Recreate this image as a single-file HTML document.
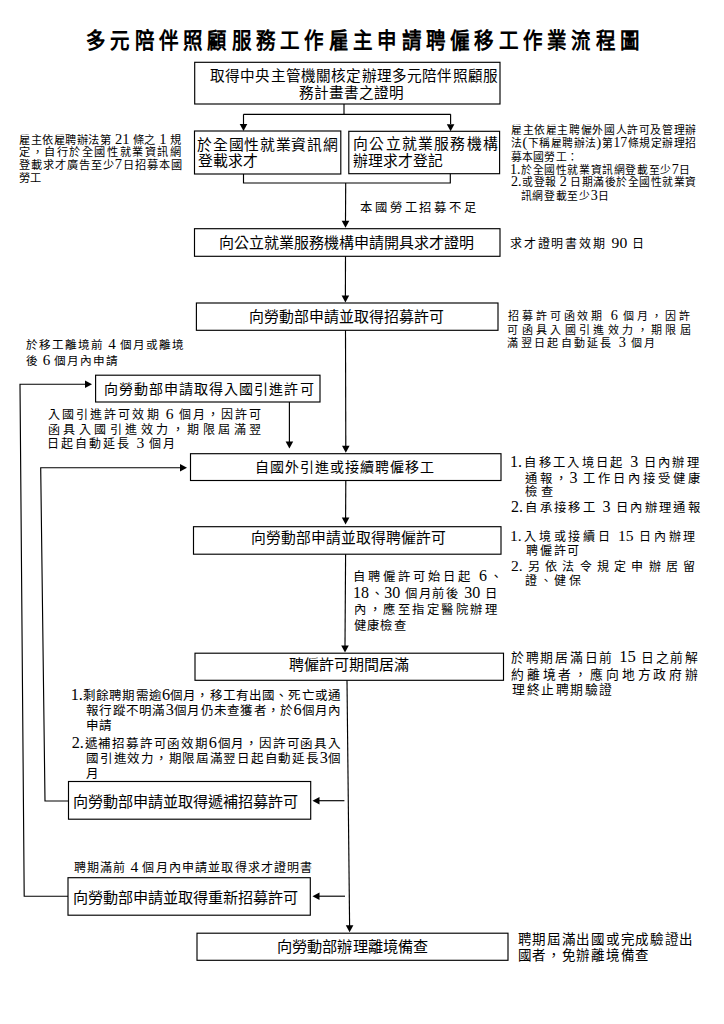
<!DOCTYPE html><html lang="zh-TW"><head><meta charset="utf-8"><style>
html,body{margin:0;padding:0;background:#fff;}
#pg{position:relative;width:724px;height:1024px;overflow:hidden;background:#fff;}
.d{font-size:1.3em;line-height:0;}
.t{position:absolute;white-space:nowrap;color:#000;font-family:"Liberation Serif", serif;}
svg{position:absolute;left:0;top:0;}
</style></head><body><div id="pg">
<svg width="724" height="1024" viewBox="0 0 724 1024">
<rect x="194.7" y="62.3" width="305.30" height="41.70" fill="none" stroke="#000" stroke-width="1.15"/>
<rect x="194.5" y="131.0" width="146.30" height="43.00" fill="none" stroke="#000" stroke-width="1.15"/>
<rect x="348.8" y="131.3" width="150.80" height="42.40" fill="none" stroke="#000" stroke-width="1.15"/>
<rect x="194.5" y="228.7" width="305.50" height="27.60" fill="none" stroke="#000" stroke-width="1.15"/>
<rect x="196.4" y="303.0" width="301.60" height="27.30" fill="none" stroke="#000" stroke-width="1.15"/>
<rect x="95.6" y="375.2" width="224.40" height="26.80" fill="none" stroke="#000" stroke-width="1.15"/>
<rect x="190.5" y="453.7" width="310.50" height="26.80" fill="none" stroke="#000" stroke-width="1.15"/>
<rect x="193.5" y="526.7" width="307.50" height="27.50" fill="none" stroke="#000" stroke-width="1.15"/>
<rect x="195.0" y="653.2" width="308.50" height="27.10" fill="none" stroke="#000" stroke-width="1.15"/>
<rect x="68.5" y="781.5" width="242.20" height="37.70" fill="none" stroke="#000" stroke-width="1.15"/>
<rect x="68.0" y="877.7" width="242.30" height="37.50" fill="none" stroke="#000" stroke-width="1.15"/>
<rect x="197.0" y="933.2" width="311.00" height="27.10" fill="none" stroke="#000" stroke-width="1.15"/>
<polyline points="344.0,104.0 344.0,114.3" fill="none" stroke="#000" stroke-width="1.15"/>
<polyline points="243.5,114.3 450.7,114.3" fill="none" stroke="#000" stroke-width="1.15"/>
<polyline points="243.5,114.3 243.5,124" fill="none" stroke="#000" stroke-width="1.15"/>
<polyline points="450.6,114.3 450.6,124" fill="none" stroke="#000" stroke-width="1.15"/>
<polyline points="243.5,174.0 243.5,183.0 450.3,183.0 450.3,173.7" fill="none" stroke="#000" stroke-width="1.15"/>
<polyline points="345.7,183.0 345.5,221" fill="none" stroke="#000" stroke-width="1.15"/>
<polyline points="345.5,256.3 345.4,296" fill="none" stroke="#000" stroke-width="1.15"/>
<polyline points="345.5,330.3 345.8,446" fill="none" stroke="#000" stroke-width="1.15"/>
<polyline points="289.4,402.0 289.4,442" fill="none" stroke="#000" stroke-width="1.15"/>
<polyline points="68.0,896.2 24.2,896.2 20.0,384.2 86,384.2" fill="none" stroke="#000" stroke-width="1.15"/>
<polyline points="68.5,801.0 45.0,801.0 40.7,467.7 181,467.7" fill="none" stroke="#000" stroke-width="1.15"/>
<polyline points="345.8,480.5 345.6,518" fill="none" stroke="#000" stroke-width="1.15"/>
<polyline points="345.6,554.2 345.0,646" fill="none" stroke="#000" stroke-width="1.15"/>
<polyline points="347.0,680.3 349.6,926" fill="none" stroke="#000" stroke-width="1.15"/>
<polyline points="344.4,800.7 318.5,800.7" fill="none" stroke="#000" stroke-width="1.15"/>
<polyline points="345.0,896.2 318.5,896.2" fill="none" stroke="#000" stroke-width="1.15"/>
<polygon points="243.50,131.00 239.70,124.00 247.30,124.00" fill="#000"/>
<polygon points="450.60,131.30 446.80,124.30 454.40,124.30" fill="#000"/>
<polygon points="345.50,227.80 341.70,220.80 349.30,220.80" fill="#000"/>
<polygon points="345.40,302.50 341.60,295.50 349.20,295.50" fill="#000"/>
<polygon points="345.80,452.80 342.00,445.80 349.60,445.80" fill="#000"/>
<polygon points="289.40,448.60 285.60,441.60 293.20,441.60" fill="#000"/>
<polygon points="92.00,384.20 85.00,380.40 85.00,388.00" fill="#000"/>
<polygon points="187.00,467.70 180.00,463.90 180.00,471.50" fill="#000"/>
<polygon points="345.60,524.50 341.80,517.50 349.40,517.50" fill="#000"/>
<polygon points="345.00,652.50 341.20,645.50 348.80,645.50" fill="#000"/>
<polygon points="349.60,932.30 345.80,925.30 353.40,925.30" fill="#000"/>
<polygon points="312.50,800.70 319.50,796.90 319.50,804.50" fill="#000"/>
<polygon points="312.50,896.20 319.50,892.40 319.50,900.00" fill="#000"/>
</svg>
<div class="t" style="left:86.00px;top:30.00px;width:554.00px;font-size:19.5px;line-height:19.5px;text-align-last:justify;text-align:justify;font-weight:bold;transform:scaleY(1.13);transform-origin:0 0;">多元陪伴照顧服務工作雇主申請聘僱移工作業流程圖</div>
<div class="t" style="left:210.00px;top:69.00px;width:288.00px;font-size:14.6px;line-height:14.6px;text-align-last:justify;text-align:justify;">取得中央主管機關核定辦理多元陪伴照顧服</div>
<div class="t" style="left:299.00px;top:86.25px;width:105.00px;font-size:14.6px;line-height:14.6px;text-align-last:justify;text-align:justify;">務計畫書之證明</div>
<div class="t" style="left:197.40px;top:137.50px;width:140.20px;font-size:14.8px;line-height:14.8px;text-align-last:justify;text-align:justify;">於全國性就業資訊網</div>
<div class="t" style="left:197.80px;top:154.10px;width:57.00px;font-size:14.8px;line-height:14.8px;text-align-last:justify;text-align:justify;">登載求才</div>
<div class="t" style="left:353.30px;top:137.00px;width:144.40px;font-size:14.8px;line-height:14.8px;text-align-last:justify;text-align:justify;">向公立就業服務機構</div>
<div class="t" style="left:352.80px;top:154.40px;width:88.80px;font-size:14.8px;line-height:14.8px;text-align-last:justify;text-align:justify;">辦理求才登記</div>
<div class="t" style="left:19.00px;top:134.55px;width:162.00px;font-size:11.2px;line-height:11.2px;text-align-last:justify;text-align:justify;">雇主依雇聘辦法第 <span class="d">21</span> 條之 <span class="d">1</span> 規</div>
<div class="t" style="left:19.00px;top:147.45px;width:162.00px;font-size:11.2px;line-height:11.2px;text-align-last:justify;text-align:justify;">定，自行於全國性就業資訊網</div>
<div class="t" style="left:19.00px;top:160.30px;width:163.00px;font-size:11.2px;line-height:11.2px;text-align-last:justify;text-align:justify;">登載求才廣告至少<span class="d">7</span>日招募本國</div>
<div class="t" style="left:19.00px;top:172.50px;width:21.00px;font-size:11.2px;line-height:11.2px;text-align-last:justify;text-align:justify;">勞工</div>
<div class="t" style="left:511.00px;top:125.25px;width:185.20px;font-size:10.8px;line-height:10.8px;text-align-last:justify;text-align:justify;">雇主依雇主聘僱外國人許可及管理辦</div>
<div class="t" style="left:511.00px;top:137.75px;width:185.20px;font-size:10.8px;line-height:10.8px;text-align-last:justify;text-align:justify;">法<span class="d">(</span>下稱雇聘辦法<span class="d">)</span>第<span class="d">17</span>條規定辦理招</div>
<div class="t" style="left:511.00px;top:151.50px;width:66.80px;font-size:10.8px;line-height:10.8px;text-align-last:justify;text-align:justify;">募本國勞工：</div>
<div class="t" style="left:510.00px;top:165.30px;width:180.40px;font-size:10.8px;line-height:10.8px;text-align-last:justify;text-align:justify;"><span class="d">1.</span>於全國性就業資訊網登載至少<span class="d">7</span>日</div>
<div class="t" style="left:511.00px;top:177.25px;width:185.20px;font-size:10.8px;line-height:10.8px;text-align-last:justify;text-align:justify;"><span class="d">2.</span>或登報 <span class="d">2</span> 日期滿後於全國性就業資</div>
<div class="t" style="left:520.60px;top:190.75px;width:88.80px;font-size:10.8px;line-height:10.8px;text-align-last:justify;text-align:justify;">訊網登載至少<span class="d">3</span>日</div>
<div class="t" style="left:360.00px;top:202.00px;width:116.00px;font-size:12.3px;line-height:12.3px;text-align-last:justify;text-align:justify;">本國勞工招募不足</div>
<div class="t" style="left:219.00px;top:235.50px;width:255.00px;font-size:15.0px;line-height:15.0px;text-align-last:justify;text-align:justify;">向公立就業服務機構申請開具求才證明</div>
<div class="t" style="left:510.00px;top:237.80px;width:134.00px;font-size:12.0px;line-height:12.0px;text-align-last:justify;text-align:justify;">求才證明書效期 <span class="d">90</span> 日</div>
<div class="t" style="left:249.00px;top:309.80px;width:190.00px;font-size:14.9px;line-height:14.9px;text-align-last:justify;text-align:justify;">向勞動部申請並取得招募許可</div>
<div class="t" style="left:508.30px;top:311.10px;width:181.40px;font-size:11.0px;line-height:11.0px;text-align-last:justify;text-align:justify;">招募許可函效期 <span class="d">6</span> 個月，因許</div>
<div class="t" style="left:507.30px;top:324.80px;width:183.40px;font-size:11.0px;line-height:11.0px;text-align-last:justify;text-align:justify;">可函具入國引進效力，期限屆</div>
<div class="t" style="left:507.30px;top:337.65px;width:148.00px;font-size:11.0px;line-height:11.0px;text-align-last:justify;text-align:justify;">滿翌日起自動延長 <span class="d">3</span> 個月</div>
<div class="t" style="left:26.00px;top:339.85px;width:158.00px;font-size:11.6px;line-height:11.6px;text-align-last:justify;text-align:justify;">於移工離境前 <span class="d">4</span> 個月或離境</div>
<div class="t" style="left:26.00px;top:355.50px;width:92.20px;font-size:11.6px;line-height:11.6px;text-align-last:justify;text-align:justify;">後 <span class="d">6</span> 個月內申請</div>
<div class="t" style="left:103.50px;top:382.60px;width:210.00px;font-size:14.0px;line-height:14.0px;text-align-last:justify;text-align:justify;">向勞動部申請取得入國引進許可</div>
<div class="t" style="left:47.60px;top:408.50px;width:213.80px;font-size:12.0px;line-height:12.0px;text-align-last:justify;text-align:justify;">入國引進許可效期 <span class="d">6</span> 個月，因許可</div>
<div class="t" style="left:47.60px;top:423.50px;width:213.80px;font-size:12.0px;line-height:12.0px;text-align-last:justify;text-align:justify;">函具入國引進效力，期限屆滿翌</div>
<div class="t" style="left:46.60px;top:438.00px;width:128.80px;font-size:12.0px;line-height:12.0px;text-align-last:justify;text-align:justify;">日起自動延長 <span class="d">3</span> 個月</div>
<div class="t" style="left:254.70px;top:460.70px;width:179.60px;font-size:14.0px;line-height:14.0px;text-align-last:justify;text-align:justify;">自國外引進或接續聘僱移工</div>
<div class="t" style="left:510.00px;top:457.45px;width:188.80px;font-size:12.3px;line-height:12.3px;text-align-last:justify;text-align:justify;"><span class="d">1.</span>自移工入境日起 <span class="d">3</span> 日內辦理</div>
<div class="t" style="left:524.70px;top:472.50px;width:175.20px;font-size:12.3px;line-height:12.3px;text-align-last:justify;text-align:justify;">通報，<span class="d">3</span> 工作日內接受健康</div>
<div class="t" style="left:524.70px;top:485.75px;width:28.20px;font-size:12.3px;line-height:12.3px;text-align-last:justify;text-align:justify;">檢查</div>
<div class="t" style="left:511.00px;top:501.50px;width:188.60px;font-size:12.3px;line-height:12.3px;text-align-last:justify;text-align:justify;"><span class="d">2.</span>自承接移工 <span class="d">3</span> 日內辦理通報</div>
<div class="t" style="left:251.00px;top:530.75px;width:187.00px;font-size:14.8px;line-height:14.8px;text-align-last:justify;text-align:justify;">向勞動部申請並取得聘僱許可</div>
<div class="t" style="left:510.00px;top:531.25px;width:185.20px;font-size:12.0px;line-height:12.0px;text-align-last:justify;text-align:justify;"><span class="d">1.</span>入境或接續日 <span class="d">15</span> 日內辦理</div>
<div class="t" style="left:525.70px;top:544.85px;width:53.80px;font-size:12.0px;line-height:12.0px;text-align-last:justify;text-align:justify;">聘僱許可</div>
<div class="t" style="left:511.00px;top:561.00px;width:184.00px;font-size:12.0px;line-height:12.0px;text-align-last:justify;text-align:justify;"><span class="d">2.</span>另依法令規定申辦居留</div>
<div class="t" style="left:524.70px;top:574.50px;width:56.60px;font-size:12.0px;line-height:12.0px;text-align-last:justify;text-align:justify;">證、健保</div>
<div class="t" style="left:353.00px;top:570.50px;width:149.00px;font-size:12.3px;line-height:12.3px;text-align-last:justify;text-align:justify;">自聘僱許可始日起 <span class="d">6</span>、</div>
<div class="t" style="left:353.00px;top:587.60px;width:144.00px;font-size:12.3px;line-height:12.3px;text-align-last:justify;text-align:justify;"><span class="d">18</span>、<span class="d">30</span> 個月前後 <span class="d">30</span> 日</div>
<div class="t" style="left:354.00px;top:603.50px;width:143.00px;font-size:12.3px;line-height:12.3px;text-align-last:justify;text-align:justify;">內，應至指定醫院辦理</div>
<div class="t" style="left:354.00px;top:620.20px;width:51.60px;font-size:12.3px;line-height:12.3px;text-align-last:justify;text-align:justify;">健康檢查</div>
<div class="t" style="left:289.00px;top:658.25px;width:119.00px;font-size:15.0px;line-height:15.0px;text-align-last:justify;text-align:justify;">聘僱許可期間居滿</div>
<div class="t" style="left:511.00px;top:652.00px;width:187.00px;font-size:12.8px;line-height:12.8px;text-align-last:justify;text-align:justify;">於聘期居滿日前 <span class="d">15</span> 日之前解</div>
<div class="t" style="left:511.00px;top:668.50px;width:187.00px;font-size:12.8px;line-height:12.8px;text-align-last:justify;text-align:justify;">約離境者，應向地方政府辦</div>
<div class="t" style="left:512.00px;top:684.35px;width:100.00px;font-size:12.8px;line-height:12.8px;text-align-last:justify;text-align:justify;">理終止聘期驗證</div>
<div class="t" style="left:70.70px;top:690.25px;width:270.20px;font-size:12.5px;line-height:12.5px;text-align-last:justify;text-align:justify;"><span class="d">1.</span>剩餘聘期需逾<span class="d">6</span>個月，移工有出國、死亡或通</div>
<div class="t" style="left:86.10px;top:705.15px;width:255.20px;font-size:12.5px;line-height:12.5px;text-align-last:justify;text-align:justify;">報行蹤不明滿<span class="d">3</span>個月仍未查獲者，於<span class="d">6</span>個月內</div>
<div class="t" style="left:86.10px;top:719.55px;width:24.60px;font-size:12.5px;line-height:12.5px;text-align-last:justify;text-align:justify;">申請</div>
<div class="t" style="left:71.70px;top:737.75px;width:269.20px;font-size:12.5px;line-height:12.5px;text-align-last:justify;text-align:justify;"><span class="d">2.</span>遞補招募許可函效期<span class="d">6</span>個月，因許可函具入</div>
<div class="t" style="left:86.10px;top:753.25px;width:255.40px;font-size:12.5px;line-height:12.5px;text-align-last:justify;text-align:justify;">國引進效力，期限屆滿翌日起自動延長<span class="d">3</span>個</div>
<div class="t" style="left:86.10px;top:768.20px;width:11.80px;font-size:12.5px;line-height:12.5px;">月</div>
<div class="t" style="left:73.40px;top:795.35px;width:224.80px;font-size:15.1px;line-height:15.1px;text-align-last:justify;text-align:justify;">向勞動部申請並取得遞補招募許可</div>
<div class="t" style="left:73.60px;top:862.00px;width:238.80px;font-size:12.0px;line-height:12.0px;text-align-last:justify;text-align:justify;">聘期滿前 <span class="d">4</span> 個月內申請並取得求才證明書</div>
<div class="t" style="left:73.40px;top:891.00px;width:224.80px;font-size:15.1px;line-height:15.1px;text-align-last:justify;text-align:justify;">向勞動部申請並取得重新招募許可</div>
<div class="t" style="left:277.00px;top:938.70px;width:151.00px;font-size:15.2px;line-height:15.2px;text-align-last:justify;text-align:justify;">向勞動部辦理離境備查</div>
<div class="t" style="left:517.60px;top:933.00px;width:174.80px;font-size:13.5px;line-height:13.5px;text-align-last:justify;text-align:justify;">聘期屆滿出國或完成驗證出</div>
<div class="t" style="left:517.60px;top:949.00px;width:130.80px;font-size:13.5px;line-height:13.5px;text-align-last:justify;text-align:justify;">國者，免辦離境備查</div>
</div></body></html>
